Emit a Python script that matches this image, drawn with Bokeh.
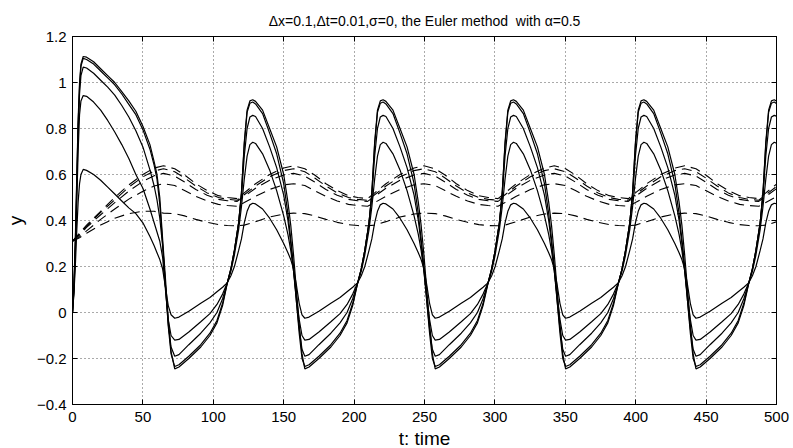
from bokeh.plotting import figure
from bokeh.models import Range1d, FixedTicker, LinearAxis
from bokeh.embed import file_html
from bokeh.resources import INLINE

# ---------------- data ----------------
TITLE = "\u0394x=0.1,\u0394t=0.01,\u03c3=0, the Euler method \u00a0with \u03b1=0.5"
X_LABEL = "t: time"
Y_LABEL = "y"
x_ticks = [0, 50, 100, 150, 200, 250, 300, 350, 400, 450, 500]
x_tick_labels = ["0", "50", "100", "150", "200", "250", "300", "350", "400", "450", "500"]
y_ticks = [-0.4, -0.2, 0, 0.2, 0.4, 0.6, 0.8, 1, 1.2]
y_tick_labels = ["\u22120.4", "\u22120.2", "0", "0.2", "0.4", "0.6", "0.8", "1", "1.2"]

# times at which the solid curves cross together (start of each periodic cycle);
# the first one is the virtual start of the transient first cycle
cycle_start = [17.6, 110.0, 202.6, 295.2, 387.8, 480.4]

# first (transient) cycle of the five solid curves, t from 0 to 70
t_first = [0, 1, 2, 3, 4, 5, 6, 7.6, 10, 15, 20, 25, 30, 35, 40, 45, 50, 55, 58, 60, 62, 64, 66, 68, 70]
sA_first = [0.0, 0.12, 0.32, 0.58, 0.84, 1.0, 1.08, 1.113, 1.11, 1.09, 1.06, 1.03, 1.0, 0.96, 0.92, 0.875, 0.81, 0.73, 0.655, 0.6, 0.5, 0.32, 0.15, -0.03, -0.17]
sB_first = [0.0, 0.11, 0.3, 0.56, 0.82, 0.98, 1.07, 1.105, 1.1, 1.08, 1.05, 1.02, 0.99, 0.95, 0.905, 0.86, 0.795, 0.71, 0.64, 0.58, 0.47, 0.3, 0.12, -0.06, -0.18]
sC_first = [0.0, 0.1, 0.28, 0.52, 0.78, 0.95, 1.03, 1.067, 1.063, 1.04, 1.01, 0.98, 0.945, 0.9, 0.85, 0.79, 0.72, 0.62, 0.55, 0.49, 0.41, 0.29, 0.12, -0.05, -0.15]
sD_first = [0.0, 0.09, 0.25, 0.47, 0.7, 0.86, 0.92, 0.943, 0.94, 0.915, 0.88, 0.835, 0.785, 0.73, 0.67, 0.6, 0.54, 0.45, 0.39, 0.35, 0.31, 0.24, 0.1, -0.03, -0.1]
sE_first = [0.0, 0.08, 0.2, 0.35, 0.48, 0.56, 0.6, 0.622, 0.618, 0.6, 0.575, 0.545, 0.515, 0.485, 0.455, 0.43, 0.39, 0.33, 0.29, 0.26, 0.23, 0.19, 0.11, 0.03, -0.01]

# one periodic cycle of the five solid curves (time after the cycle start)
s_off = [0, 2.5, 5, 8, 10, 12, 14, 16, 18, 20, 25, 30, 35, 40, 43, 45, 47, 49, 51, 53, 55, 58, 65, 73.5, 80, 85, 89]
sA_cyc = [0.13, 0.19, 0.27, 0.39, 0.52, 0.74, 0.88, 0.92, 0.925, 0.918, 0.88, 0.80, 0.72, 0.60, 0.48, 0.38, 0.25, 0.10, -0.05, -0.18, -0.245, -0.237, -0.2, -0.15, -0.10, -0.045, 0.03]
sB_cyc = [0.13, 0.19, 0.27, 0.39, 0.52, 0.73, 0.87, 0.91, 0.915, 0.907, 0.865, 0.78, 0.69, 0.56, 0.43, 0.32, 0.20, 0.05, -0.09, -0.20, -0.235, -0.227, -0.19, -0.14, -0.09, -0.035, 0.04]
sC_cyc = [0.13, 0.19, 0.27, 0.39, 0.51, 0.68, 0.80, 0.85, 0.857, 0.852, 0.80, 0.72, 0.63, 0.51, 0.40, 0.30, 0.18, 0.05, -0.07, -0.16, -0.19, -0.183, -0.14, -0.09, -0.045, 0.0, 0.06]
sD_cyc = [0.13, 0.18, 0.25, 0.36, 0.46, 0.58, 0.68, 0.73, 0.74, 0.735, 0.69, 0.62, 0.53, 0.42, 0.34, 0.27, 0.18, 0.07, -0.03, -0.10, -0.12, -0.117, -0.085, -0.04, -0.005, 0.035, 0.08]
sE_cyc = [0.13, 0.16, 0.20, 0.27, 0.32, 0.39, 0.44, 0.468, 0.475, 0.472, 0.45, 0.41, 0.36, 0.30, 0.26, 0.23, 0.19, 0.12, 0.04, -0.01, -0.025, -0.02, 0.005, 0.04, 0.065, 0.09, 0.11]

# first (transient) part of the five dashed curves, t from 0 to 58
t_dfirst = [0, 5, 10, 20, 30, 40, 50, 58]
d1_first = [0.31, 0.345, 0.38, 0.44, 0.5, 0.555, 0.6, 0.628]
d2_first = [0.31, 0.34, 0.375, 0.435, 0.49, 0.545, 0.59, 0.615]
d3_first = [0.31, 0.337, 0.37, 0.425, 0.478, 0.528, 0.57, 0.595]
d4_first = [0.31, 0.33, 0.355, 0.405, 0.45, 0.493, 0.527, 0.55]
d5_first = [0.31, 0.325, 0.345, 0.38, 0.41, 0.43, 0.44, 0.44]

# one periodic cycle of the five dashed curves (time after the cycle start)
d_off = [0, 7, 12, 20, 30, 40, 47, 55, 62, 70, 78, 86]
d1_cyc = [0.50, 0.495, 0.52, 0.56, 0.60, 0.628, 0.638, 0.625, 0.598, 0.56, 0.53, 0.508]
d2_cyc = [0.492, 0.488, 0.512, 0.55, 0.59, 0.617, 0.625, 0.612, 0.585, 0.55, 0.52, 0.50]
d3_cyc = [0.486, 0.483, 0.505, 0.54, 0.575, 0.598, 0.605, 0.593, 0.567, 0.535, 0.51, 0.492]
d4_cyc = [0.465, 0.462, 0.478, 0.505, 0.535, 0.555, 0.56, 0.552, 0.53, 0.505, 0.485, 0.47]
d5_cyc = [0.378, 0.377, 0.38, 0.395, 0.415, 0.428, 0.432, 0.43, 0.42, 0.405, 0.392, 0.382]


def build(t0, y0, offs, ycyc, first_from):
    xs, ys = list(t0), list(y0)
    for k, c in enumerate(cycle_start):
        for o, v in zip(offs, ycyc):
            if k == 0 and o < first_from:
                continue
            xs.append(c + o)
            ys.append(v)
    return xs, ys


FONT = "Liberation Sans"

p = figure(frame_width=704, frame_height=368,
           x_range=Range1d(0, 500), y_range=Range1d(-0.4, 1.2),
           output_backend="svg", toolbar_location=None,
           min_border_left=72, min_border_right=17, min_border_top=36, min_border_bottom=44,
           background_fill_color="white", border_fill_color="white")

p.title.text = TITLE
p.title.align = "center"
p.title.text_font = FONT
p.title.text_font_size = "14px"
p.title.text_font_style = "normal"
p.title.text_color = "black"
p.title.standoff = 15

solid_sets = [(sA_first, sA_cyc), (sB_first, sB_cyc), (sC_first, sC_cyc), (sD_first, sD_cyc), (sE_first, sE_cyc)]
for yf, yc in solid_sets:
    xs, ys = build(t_first, yf, s_off, yc, 55)
    p.line(xs, ys, line_color="black", line_width=1.2)

dashed_sets = [(d1_first, d1_cyc), (d2_first, d2_cyc), (d3_first, d3_cyc), (d4_first, d4_cyc), (d5_first, d5_cyc)]
for yf, yc in dashed_sets:
    xs, ys = build(t_dfirst, yf, d_off, yc, 47)
    p.line(xs, ys, line_color="black", line_width=1.1, line_dash="10 6")

x_over = {v: s for v, s in zip(x_ticks, x_tick_labels)}
y_over = {v: s for v, s in zip(y_ticks, y_tick_labels)}

for ax in (p.xaxis[0], p.yaxis[0]):
    ax.major_tick_in = 5
    ax.major_tick_out = 0
    ax.minor_tick_line_color = None
    ax.axis_line_color = "black"
    ax.major_tick_line_color = "black"
    ax.major_label_text_font = FONT
    ax.major_label_text_font_size = "15px"
    ax.major_label_text_color = "black"
    ax.axis_label_text_font = FONT
    ax.axis_label_text_font_size = "19px"
    ax.axis_label_text_font_style = "normal"
    ax.axis_label_text_color = "black"

p.xaxis[0].ticker = FixedTicker(ticks=x_ticks)
p.xaxis[0].major_label_overrides = x_over
p.xaxis[0].axis_label = X_LABEL
p.xaxis[0].major_label_standoff = 7
p.xaxis[0].axis_label_standoff = 3
p.yaxis[0].ticker = FixedTicker(ticks=y_ticks)
p.yaxis[0].major_label_overrides = y_over
p.yaxis[0].axis_label = Y_LABEL
p.yaxis[0].major_label_standoff = 6
p.yaxis[0].axis_label_standoff = 8

for loc, tk in (("above", x_ticks), ("right", y_ticks)):
    ax = LinearAxis(ticker=FixedTicker(ticks=tk), major_tick_in=5, major_tick_out=0,
                    minor_tick_line_color=None, major_label_text_font_size="1px",
                    major_label_text_color=None, major_label_standoff=0,
                    axis_line_color="black")
    p.add_layout(ax, loc)

p.xgrid.ticker = FixedTicker(ticks=x_ticks)
p.ygrid.ticker = FixedTicker(ticks=y_ticks)
for g in (p.xgrid[0], p.ygrid[0]):
    g.grid_line_color = "#555555"
    g.grid_line_dash = "1 3"
    g.grid_line_width = 1
p.outline_line_color = "black"

open("out.html", "w").write(file_html(p, INLINE))
